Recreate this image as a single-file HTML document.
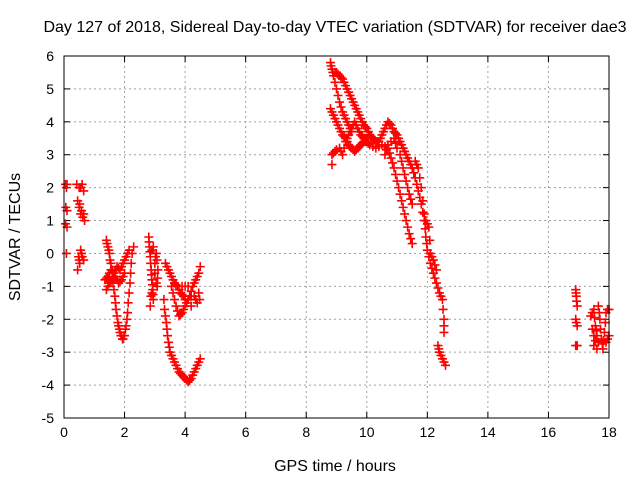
<!DOCTYPE html>
<html><head><meta charset="utf-8"><style>
body{margin:0;background:#fff}
svg{display:block;font-family:"Liberation Sans",sans-serif}
</style></head><body>
<svg id="chart" width="640" height="480">
<text x="335" y="32" font-size="16" text-anchor="middle">Day 127 of 2018, Sidereal Day-to-day VTEC variation (SDTVAR) for receiver dae3</text>
<text x="335" y="471" font-size="16" text-anchor="middle">GPS time / hours</text>
<text x="20" y="237" font-size="16" text-anchor="middle" transform="rotate(-90 20 237)">SDTVAR / TECUs</text>
<g id="grid"></g><g id="ticks"></g><g id="marks"></g>
<rect x="64" y="56" width="545" height="362" fill="none" stroke="#000"/>
</svg>
<script>
const xTicks=[0,2,4,6,8,10,12,14,16,18];
const yTicks=[-5,-4,-3,-2,-1,0,1,2,3,4,5,6];
const trackA=[[0.05,2.1],[0.08,2.0],[0.1,2.1],[0.06,1.4],[0.1,1.3],[0.05,0.9],[0.1,0.8],[0.08,0.0],[0.42,2.1],[0.5,2.0],[0.6,2.1],[0.65,1.9],[0.55,2.0],[0.45,1.6],[0.5,1.4],[0.52,1.5],[0.55,1.2],[0.58,1.3],[0.62,1.1],[0.68,1.0],[0.65,1.2],[0.48,-0.1],[0.52,-0.3],[0.45,-0.5],[0.5,-0.2],[0.6,-0.1],[0.65,-0.2],[0.55,0.1],[0.58,0.0]];
const trackB=[[1.4,0.4],[1.42,0.3],[1.45,0.2],[1.48,0.1],[1.5,0.0],[1.52,-0.2],[1.55,-0.3],[1.58,-0.5],[1.6,-0.6],[1.62,-0.9],[1.65,-1.1],[1.68,-1.3],[1.7,-1.5],[1.72,-1.7],[1.75,-1.9],[1.78,-2.1],[1.8,-2.2],[1.83,-2.3],[1.85,-2.4],[1.88,-2.5],[1.9,-2.5],[1.93,-2.6],[1.95,-2.6],[1.98,-2.5],[2.0,-2.5],[2.03,-2.3],[2.05,-2.2],[2.08,-2.0],[2.1,-1.8],[2.12,-1.5],[2.15,-1.2],[2.18,-0.9],[2.2,-0.6],[2.22,-0.3],[2.25,0.0],[2.3,0.2]];
const trackB2=[[1.35,-0.8],[1.4,-0.75],[1.45,-0.7],[1.5,-0.6],[1.55,-0.5],[1.6,-0.55],[1.65,-0.6],[1.7,-0.5],[1.75,-0.4],[1.8,-0.45],[1.85,-0.5],[1.9,-0.4],[1.95,-0.3],[2.0,-0.2],[2.05,-0.1],[2.1,0.0],[2.15,0.1],[1.4,-1.1],[1.45,-1.0],[1.5,-0.9],[1.55,-0.85],[1.6,-0.8],[1.65,-0.75],[1.7,-0.7],[1.75,-0.8],[1.8,-0.9],[1.85,-0.85],[1.9,-0.8],[1.95,-0.7],[2.0,-0.6]];
const trackC=[[2.8,0.5],[2.81,0.35],[2.82,0.2],[2.84,0.05],[2.85,-0.1],[2.86,-0.3],[2.88,-0.5],[2.89,-0.65],[2.9,-0.8],[2.92,-0.95],[2.93,-1.1],[2.94,-1.25],[2.95,-1.4],[2.85,-1.6],[2.87,-1.3],[2.9,-1.2],[3.0,-0.3],[3.02,-0.1],[3.05,0.0],[3.07,-0.2],[3.1,-0.5],[3.09,-0.75],[3.08,-1.0],[2.9,0.1],[2.95,0.2],[3.0,-0.6],[3.05,-0.9]];
const trackD1=[[3.35,-0.3],[3.4,-0.4],[3.45,-0.5],[3.5,-0.6],[3.55,-0.7],[3.6,-0.8],[3.65,-0.9],[3.7,-0.95],[3.75,-1.0],[3.8,-1.1],[3.85,-1.2],[3.9,-1.25],[3.95,-1.3],[4.0,-1.4],[4.05,-1.5],[4.1,-1.4],[4.15,-1.3],[4.2,-1.15],[4.25,-1.0],[4.3,-0.9],[4.35,-0.8],[4.4,-0.7],[4.45,-0.6],[4.5,-0.4],[3.55,-1.0],[3.6,-1.2],[3.65,-1.4],[3.7,-1.6],[3.75,-1.75],[3.8,-1.9],[3.85,-1.85],[3.9,-1.8],[3.95,-1.7],[4.0,-1.6],[4.05,-1.5],[4.1,-1.4],[4.2,-1.3],[4.3,-1.3],[4.35,-1.4],[4.4,-1.5],[4.48,-1.4],[4.45,-1.2],[4.2,-1.6],[4.1,-1.0],[4.0,-1.0],[3.9,-1.0]];
const trackD2=[[3.3,-1.4],[3.32,-1.7],[3.35,-1.9],[3.38,-2.1],[3.4,-2.3],[3.42,-2.5],[3.45,-2.7],[3.48,-2.85],[3.5,-3.0],[3.55,-3.1],[3.6,-3.2],[3.65,-3.3],[3.7,-3.4],[3.75,-3.5],[3.8,-3.6],[3.85,-3.65],[3.9,-3.7],[3.95,-3.75],[4.0,-3.8],[4.05,-3.85],[4.1,-3.9],[4.15,-3.85],[4.2,-3.8],[4.25,-3.7],[4.3,-3.6],[4.35,-3.5],[4.4,-3.4],[4.45,-3.3],[4.5,-3.2]];
const trackE1=[[8.8,5.8],[8.82,5.7],[8.85,5.6],[8.88,5.5],[8.9,5.4],[8.95,5.5],[9.0,5.5],[9.05,5.45],[9.1,5.4],[9.15,5.35],[9.2,5.3],[9.25,5.2],[9.3,5.1],[9.35,5.0],[9.4,4.9],[9.45,4.8],[9.5,4.7],[9.55,4.6],[9.6,4.5],[9.65,4.4],[9.7,4.3],[9.75,4.2],[9.8,4.1],[9.85,4.0],[9.9,3.9],[9.95,3.85],[10.0,3.8],[10.05,3.7],[10.1,3.6],[10.15,3.55],[10.2,3.5],[10.25,3.45],[10.3,3.4],[10.35,3.4],[10.4,3.4],[10.45,3.5],[10.5,3.6],[10.55,3.7],[10.6,3.8],[10.65,3.9],[10.7,4.0],[10.75,3.95],[10.8,3.9],[10.85,3.8],[10.9,3.7],[10.95,3.65],[11.0,3.6],[11.05,3.5],[11.1,3.4],[11.15,3.3],[11.2,3.2],[11.25,3.1],[11.3,3.0],[11.35,2.9],[11.4,2.8],[11.45,2.7],[11.5,2.6],[11.55,2.45],[11.6,2.3],[11.65,2.1],[11.7,1.9],[11.75,1.7],[11.8,1.5],[11.85,1.25],[11.9,1.0],[11.93,0.75],[11.95,0.5],[11.98,0.3],[12.0,0.1],[12.05,-0.1],[12.1,-0.3],[12.15,-0.45],[12.2,-0.6],[12.25,-0.75],[12.3,-0.9],[12.35,-1.05],[12.4,-1.2],[12.45,-1.3],[12.5,-1.4],[12.52,-1.7],[12.55,-2.0],[12.55,-2.2],[12.55,-2.4]];
const trackE2=[[8.8,4.4],[8.85,4.3],[8.9,4.2],[8.95,4.1],[9.0,4.0],[9.05,3.9],[9.1,3.8],[9.15,3.7],[9.2,3.6],[9.25,3.55],[9.3,3.5],[9.35,3.4],[9.4,3.3],[9.45,3.25],[9.5,3.2],[9.55,3.15],[9.6,3.1],[9.65,3.15],[9.7,3.2],[9.75,3.25],[9.8,3.3],[9.85,3.35],[9.9,3.4],[9.95,3.4],[10.0,3.4],[10.05,3.35],[10.1,3.3],[10.2,3.25],[10.3,3.2],[10.4,3.25],[10.5,3.3],[10.6,3.25],[10.7,3.2],[10.75,3.05],[10.8,2.9],[10.85,2.75],[10.9,2.6],[10.95,2.4],[11.0,2.2],[11.05,2.0],[11.1,1.8],[11.15,1.6],[11.2,1.4],[11.25,1.2],[11.3,1.0],[11.35,0.8],[11.4,0.6],[11.45,0.45],[11.5,0.3],[11.1,3.0],[11.15,2.8],[11.2,2.6],[11.25,2.4],[11.3,2.2],[11.35,2.0],[11.4,1.8],[11.45,1.65],[11.5,1.5]];
const trackE3=[[8.85,3.0],[8.9,3.05],[8.95,3.1],[9.0,3.15],[9.1,3.2],[9.15,3.1],[9.2,3.0],[9.25,3.2],[9.3,3.4],[9.35,3.5],[9.4,3.6],[9.45,3.7],[9.5,3.8],[9.55,3.9],[9.6,4.0],[9.65,3.9],[9.7,3.8],[9.75,3.7],[9.8,3.6],[9.85,3.55],[9.9,3.5],[9.95,3.5],[10.0,3.5],[8.85,2.7],[8.95,5.2],[9.0,5.0],[9.05,4.8],[9.1,4.6],[9.15,4.45],[9.2,4.3],[9.25,4.2],[9.3,4.1],[9.35,4.0],[9.4,3.9],[9.45,3.8],[9.5,3.7],[10.6,3.0],[10.65,3.15],[10.7,3.3],[10.8,3.4],[10.9,3.5],[10.95,3.35],[11.0,3.2],[11.6,2.8],[11.65,2.7],[11.7,2.6],[11.75,2.3],[11.8,2.0],[11.85,1.6],[11.9,1.2],[11.95,1.0],[12.0,0.9],[12.05,0.8],[12.08,0.4],[12.1,0.0],[12.15,-0.1],[12.2,-0.2],[12.25,-0.35],[12.3,-0.5],[12.35,-2.8],[12.38,-2.9],[12.4,-3.0],[12.45,-3.1],[12.5,-3.2],[12.55,-3.3],[12.6,-3.4]];
const trackF=[[16.9,-1.1],[16.91,-1.2],[16.92,-1.3],[16.93,-1.45],[16.95,-1.6],[16.9,-2.0],[16.92,-2.1],[16.95,-2.2],[16.9,-2.8],[16.95,-2.8],[17.4,-1.9],[17.45,-1.8],[17.5,-1.7],[17.52,-1.95],[17.55,-2.2],[17.58,-2.35],[17.6,-2.5],[17.55,-2.65],[17.5,-2.8],[17.65,-1.6],[17.68,-1.8],[17.7,-2.0],[17.72,-2.3],[17.75,-2.6],[17.78,-2.75],[17.8,-2.9],[17.82,-2.65],[17.85,-2.4],[17.88,-2.1],[17.9,-1.8],[17.95,-1.7],[18.0,-1.7],[17.9,-2.7],[17.95,-2.6],[18.0,-2.5],[17.6,-2.9],[17.65,-2.7],[17.45,-2.3],[17.5,-2.5]];
const tracks=[trackA,trackB,trackB2,trackC,trackD1,trackD2,trackE1,trackE2,trackE3,trackF];
const X0=64,X1=609,Y0=418,Y1=56,xMin=0,xMax=18,yMin=-5,yMax=6;
const xs=v=>X0+(v-xMin)/(xMax-xMin)*(X1-X0);
const ys=v=>Y0-(v-yMin)/(yMax-yMin)*(Y0-Y1);
const NS='http://www.w3.org/2000/svg';
const grid=document.getElementById('grid'),ticks=document.getElementById('ticks'),marks=document.getElementById('marks');
function mk(tag,at,parent){const e=document.createElementNS(NS,tag);for(const k in at)e.setAttribute(k,at[k]);parent.appendChild(e);return e;}
xTicks.forEach(t=>{const x=xs(t);
 const g=mk('line',{x1:x,x2:x,y1:Y0,y2:Y1,stroke:'#a0a0a0','stroke-dasharray':'2,3'},grid);
 
 const a=mk('line',{x1:x,x2:x,y1:Y0,y2:Y0-6,stroke:'#000'},ticks);
 const b=mk('line',{x1:x,x2:x,y1:Y1,y2:Y1+6,stroke:'#000'},ticks);
 const l=mk('text',{x:x,y:Y0+19,'font-size':14,'text-anchor':'middle'},ticks);l.textContent=t;
 });
yTicks.forEach(t=>{const y=ys(t);
 const g=mk('line',{x1:X0,x2:X1,y1:y,y2:y,stroke:'#a0a0a0','stroke-dasharray':'2,3'},grid);
 
 const a=mk('line',{x1:X0,x2:X0+6,y1:y,y2:y,stroke:'#000'},ticks);
 const b=mk('line',{x1:X1,x2:X1-6,y1:y,y2:y,stroke:'#000'},ticks);
 const l=mk('text',{x:X0-10,y:y+5,'font-size':14,'text-anchor':'end'},ticks);l.textContent=t;
 });
tracks.forEach(tr=>tr.forEach(p=>{const x=xs(p[0]),y=ys(p[1]);
 const m=mk('path',{d:`M${x-4.5},${y}H${x+4.5}M${x},${y-4.5}V${y+4.5}`,stroke:'#ff0000','stroke-width':1.6,fill:'none'},marks);
 
 }));
</script>
</body></html>
